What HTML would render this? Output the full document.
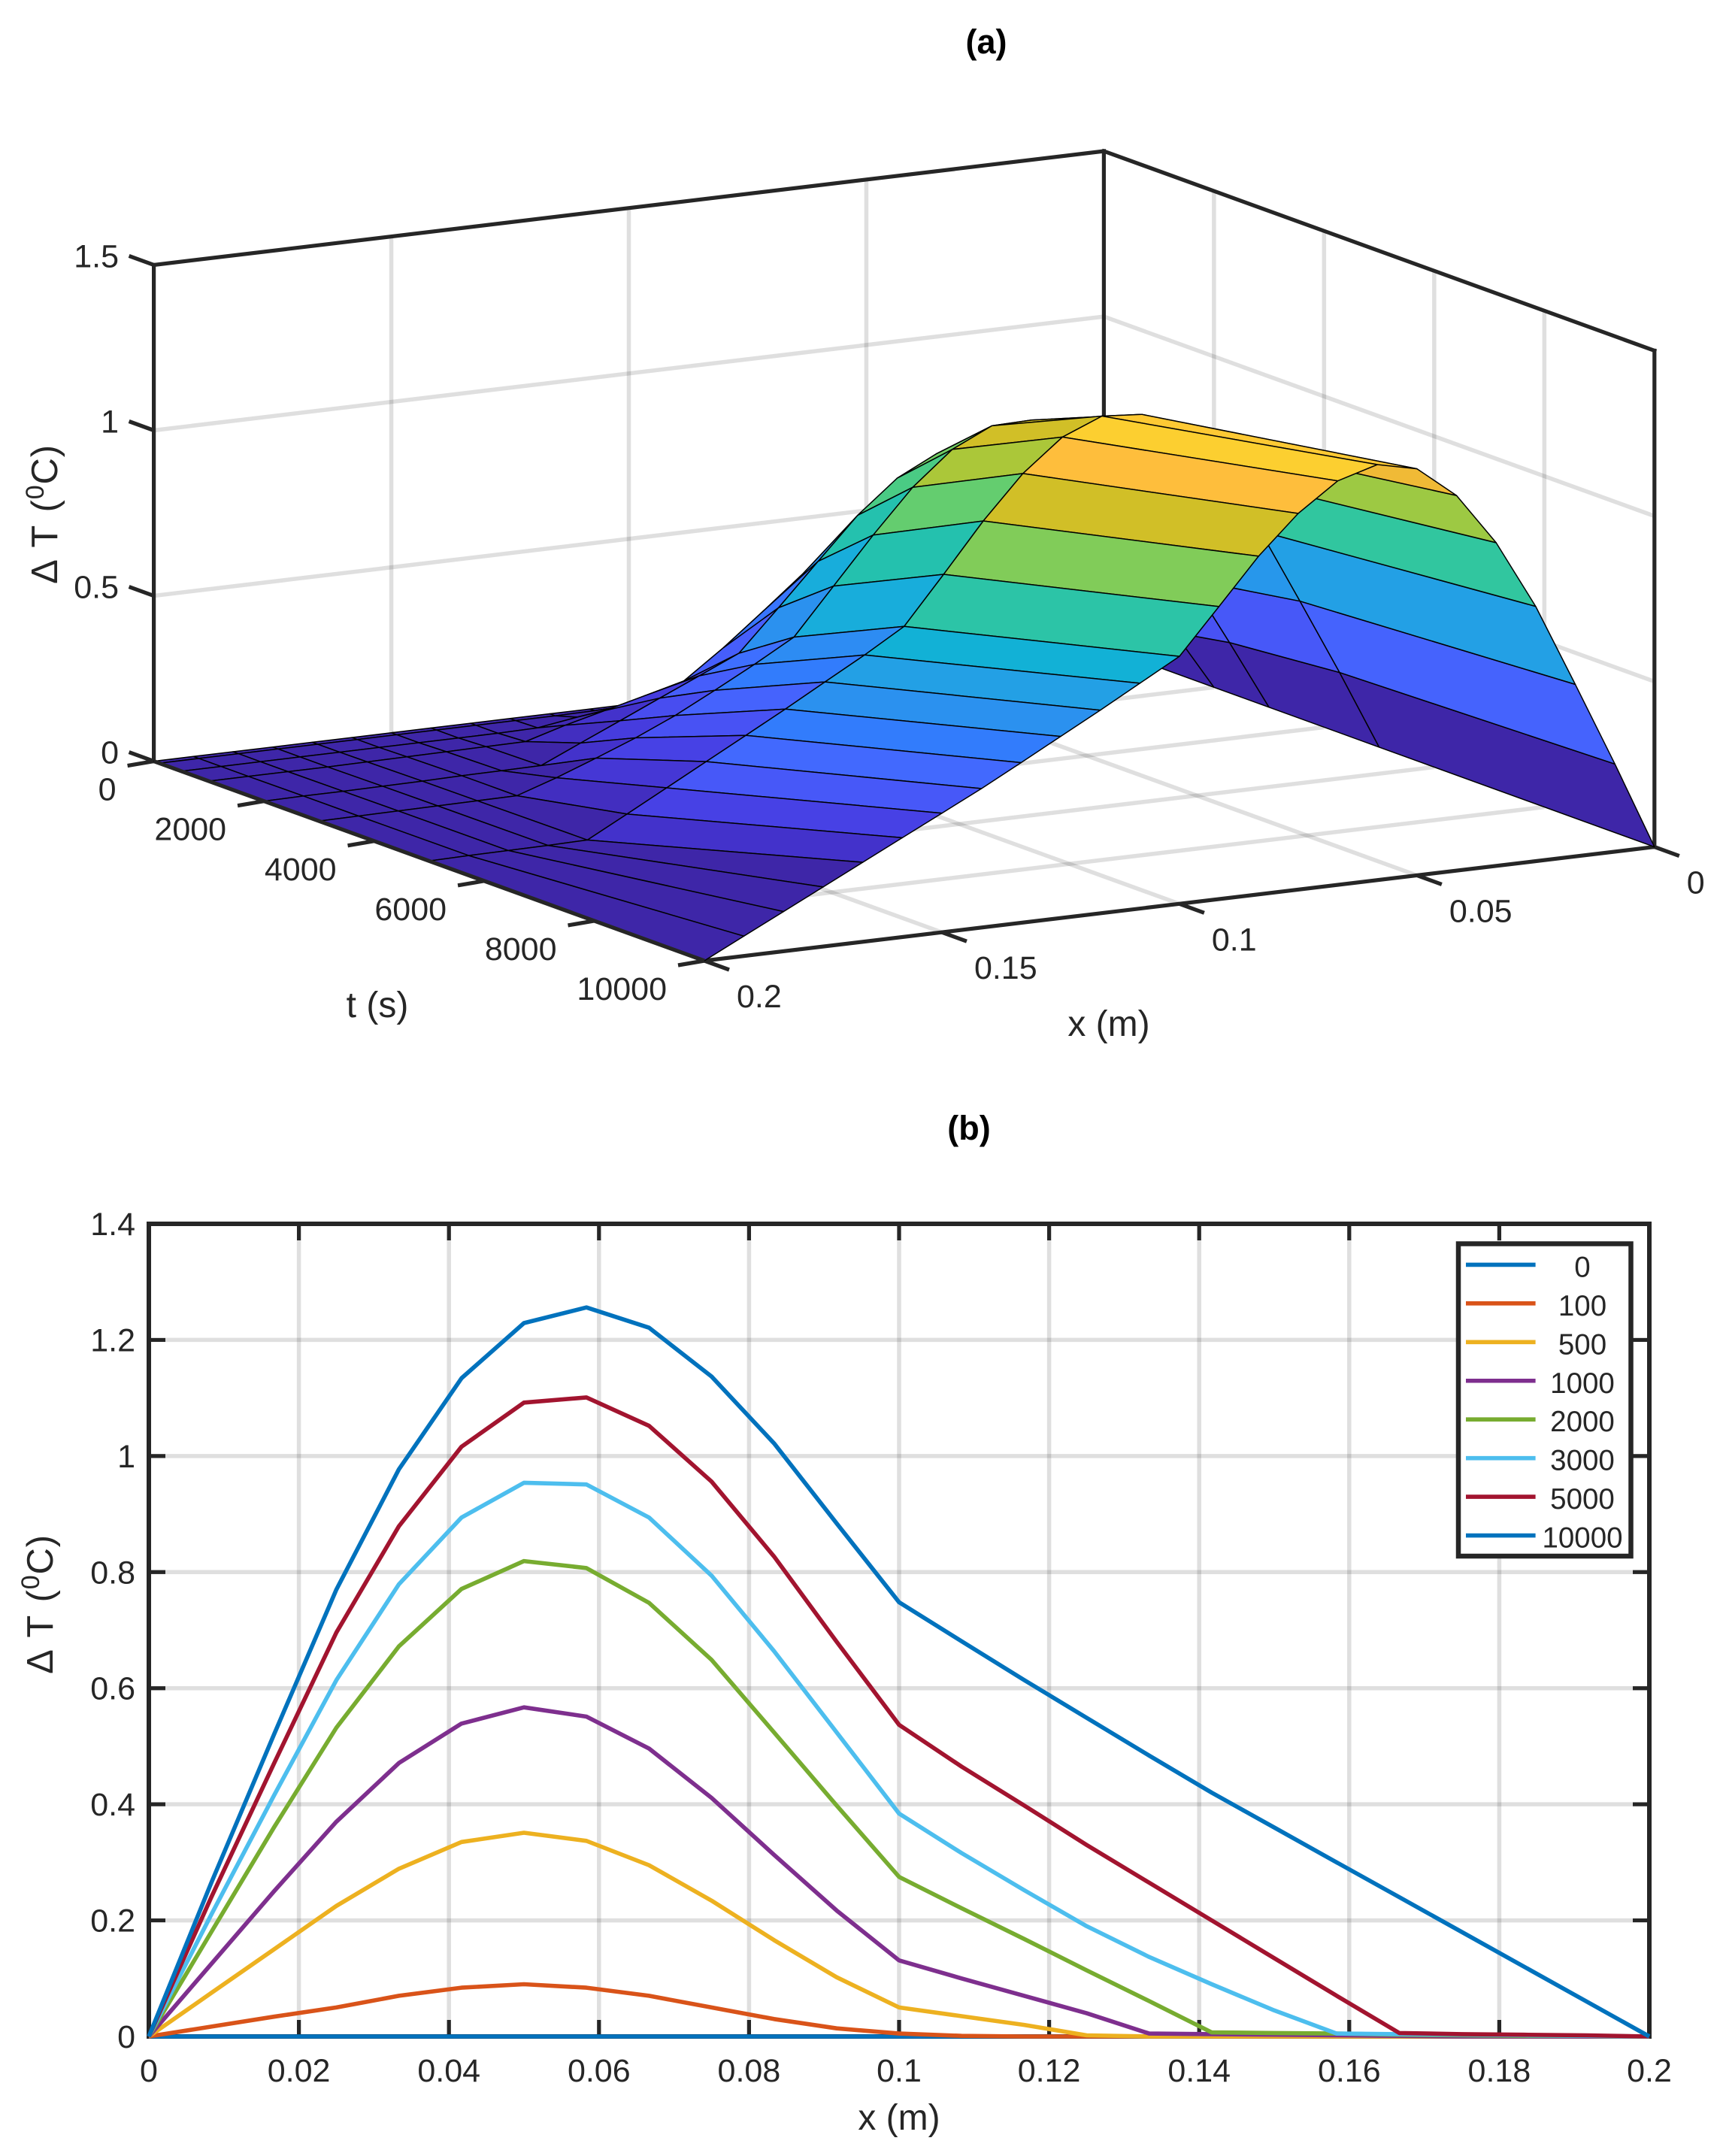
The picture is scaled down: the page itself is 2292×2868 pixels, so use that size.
<!DOCTYPE html>
<html lang="en">
<head>
<meta charset="utf-8">
<title>Temperature rise surface and profiles</title>
<style>
html,body{margin:0;padding:0;background:#fff;}
svg{display:block;}
text{font-family:"Liberation Sans",Arial,sans-serif;fill:#262626;}
</style>
</head>
<body>
<svg id="figure" xmlns="http://www.w3.org/2000/svg" width="2292" height="2868" viewBox="0 0 2292 2868">
  <rect x="0" y="0" width="2292" height="2868" fill="#ffffff"/>
  <text x="1312" y="71" font-size="45" font-weight="bold" text-anchor="middle" style="fill:#000">(a)</text>
  <text x="1289" y="1516" font-size="45" font-weight="bold" text-anchor="middle" style="fill:#000">(b)</text>
  <g id="panelA"></g>
  <g id="panelB"></g>
  <text x="1475" y="1378" font-size="48" text-anchor="middle">x (m)</text>
  <text x="502" y="1353" font-size="48" text-anchor="middle">t (s)</text>
  <text transform="translate(76 684) rotate(-90)" font-size="49" text-anchor="middle" word-spacing="3" letter-spacing="0.8">Δ T (<tspan font-size="34" dy="-18">0</tspan><tspan dy="18">C)</tspan></text>
  <text x="1196" y="2833" font-size="48" text-anchor="middle">x (m)</text>
  <text transform="translate(70 2134) rotate(-90)" font-size="49" text-anchor="middle" word-spacing="3" letter-spacing="0.8">Δ T (<tspan font-size="34" dy="-18">0</tspan><tspan dy="18">C)</tspan></text>
</svg>
<script>
// ---- Data ----
const xValues = [0,0.00833,0.01667,0.025,0.03333,0.04167,0.05,0.05833,0.06667,0.075,0.08333,0.09167,0.1,0.10833,0.11667,0.125,0.13333,0.14167,0.15,0.15833,0.16667,0.175,0.18333,0.19167,0.2];
const timeSteps = [0,100,500,1000,2000,3000,5000,10000];
const legendLabels = ['0','100','500','1000','2000','3000','5000','10000'];
const dT0 = [0,0,0,0,0,0,0,0,0,0,0,0,0,0,0,0,0,0,0,0,0,0,0,0,0];
const dT100 = [0,0.017,0.034,0.05,0.07,0.084,0.09,0.084,0.07,0.05,0.03,0.014,0.005,0.001,0,0,0,0,0,0,0,0,0,0,0];
const dT500 = [0,0.075,0.15,0.225,0.289,0.335,0.351,0.337,0.295,0.234,0.166,0.102,0.05,0.035,0.02,0.002,0,0,0,0,0,0,0,0,0];
const dT1000 = [0,0.125,0.25,0.37,0.471,0.539,0.567,0.551,0.496,0.411,0.313,0.217,0.131,0.1,0.07,0.04,0.005,0.004,0.003,0.002,0.001,0,0,0,0];
const dT2000 = [0,0.18,0.36,0.532,0.672,0.771,0.819,0.807,0.747,0.649,0.524,0.398,0.275,0.221,0.168,0.114,0.061,0.007,0.006,0.005,0.003,0.002,0.001,0.001,0];
const dT3000 = [0,0.21,0.415,0.614,0.779,0.894,0.954,0.951,0.894,0.794,0.664,0.524,0.384,0.316,0.252,0.19,0.137,0.09,0.045,0.005,0.004,0.003,0.002,0.001,0];
const dT5000 = [0,0.24,0.47,0.696,0.879,1.016,1.092,1.101,1.052,0.956,0.827,0.68,0.537,0.465,0.398,0.33,0.265,0.2,0.135,0.07,0.006,0.004,0.003,0.002,0];
const dT10000 = [0,0.265,0.52,0.77,0.977,1.134,1.229,1.256,1.221,1.137,1.022,0.884,0.748,0.681,0.614,0.549,0.484,0.42,0.36,0.3,0.24,0.18,0.12,0.06,0];
const surfaceXTicks = [0,0.05,0.1,0.15,0.2];
const surfaceXTickLabels = ['0','0.05','0.1','0.15','0.2'];
const surfaceTTicks = [0,2000,4000,6000,8000,10000];
const surfaceTTickLabels = ['0','2000','4000','6000','8000','10000'];
const surfaceZTicks = [0,0.5,1,1.5];
const surfaceZTickLabels = ['0','0.5','1','1.5'];
const lineXTicks = [0,0.02,0.04,0.06,0.08,0.1,0.12,0.14,0.16,0.18,0.2];
const lineXTickLabels = ['0','0.02','0.04','0.06','0.08','0.1','0.12','0.14','0.16','0.18','0.2'];
const lineYTicks = [0,0.2,0.4,0.6,0.8,1,1.2,1.4];
const lineYTickLabels = ['0','0.2','0.4','0.6','0.8','1','1.2','1.4'];

// ---- Styling ----
const lineColors = ['#0072bd','#d95319','#edb120','#7e2f8e','#77ac30','#4dbeee','#a2142f','#0072bd'];
const parulaMap = [[.2422,.1504,.6603],[.2504,.165,.7076],[.2578,.1818,.7511],[.2647,.1978,.7952],[.2706,.2147,.8364],[.2751,.2342,.871],[.2783,.2559,.8991],[.2803,.2782,.9221],[.2813,.3006,.9414],[.281,.3228,.9579],[.2795,.3447,.9717],[.276,.3667,.9829],[.2699,.3892,.9906],[.2602,.4123,.9952],[.244,.4358,.9988],[.2206,.4603,.9973],[.1963,.4847,.9892],[.1834,.5074,.9798],[.1786,.5289,.9682],[.1764,.5499,.952],[.1687,.5703,.9359],[.154,.5902,.9218],[.146,.6091,.9079],[.138,.6276,.8973],[.1248,.6459,.8883],[.1113,.6635,.8763],[.0952,.6798,.8598],[.0689,.6948,.8394],[.0297,.7082,.8163],[.0036,.7203,.7917],[.0067,.7312,.766],[.0433,.7411,.7394],[.0964,.75,.712],[.1408,.7584,.6842],[.1717,.767,.6554],[.1938,.7758,.6251],[.2161,.7843,.5923],[.247,.7918,.5567],[.2906,.7973,.5188],[.3406,.8008,.4789],[.3909,.8029,.4354],[.4456,.8024,.3909],[.5044,.7993,.348],[.5616,.7942,.3045],[.6174,.7876,.2612],[.672,.7793,.2227],[.7242,.7698,.191],[.7738,.7598,.1646],[.8203,.7498,.1535],[.8634,.7406,.1596],[.9035,.733,.1774],[.9393,.7288,.21],[.9728,.7298,.2394],[.9956,.7434,.2371],[.997,.7659,.2199],[.9952,.7893,.2028],[.9892,.8136,.1885],[.9786,.8386,.1766],[.9676,.8639,.1643],[.961,.889,.1537],[.9597,.9135,.1423],[.9628,.9373,.1265],[.9691,.9606,.1064],[.9769,.9839,.0805]];

const seriesByTime = [dT0,dT100,dT500,dT1000,dT2000,dT3000,dT5000,dT10000];
const NS = 'http://www.w3.org/2000/svg';
const AXIS = '#262626';
const GRID = 'rgba(38,38,38,0.15)';
const AXIS_W = 5.2;
const GRID_W = 5.5;
const SERIES_W = 5.6;

function make(parent, tag, attrs, text) {
  const el = document.createElementNS(NS, tag);
  for (const k in attrs) el.setAttribute(k, attrs[k]);
  if (text !== undefined) el.textContent = text;
  parent.appendChild(el);
  return el;
}
function lineAttrs(a, b, stroke, width) {
  return {x1:a[0], y1:a[1], x2:b[0], y2:b[1], stroke:stroke, 'stroke-width':width, 'stroke-linecap':'butt'};
}
function parula(value, maxValue) {
  const idx = Math.min(parulaMap.length - 1, Math.floor(value / maxValue * parulaMap.length));
  const c = parulaMap[idx];
  return 'rgb(' + Math.round(c[0]*255) + ',' + Math.round(c[1]*255) + ',' + Math.round(c[2]*255) + ')';
}

// ---- Panel A: 3D axis function (orthographic) ----
const xMaxA = 0.2, tMaxA = 10000;
function project(x, t, z) {
  const u = (xMaxA - x) / xMaxA;          // front corner to right corner
  const v = (tMaxA - t) / tMaxA;          // front corner to left corner
  return [937 + u * 1263.8 + v * (-732.4), 1278 + u * (-151.4) + v * (-265.4) - z * 440.1];
}
const panelA = document.getElementById('panelA');

// wall and floor grid
surfaceZTicks.forEach(function (z) {
  if (z === 0 || z === 1.5) return;
  const g1 = make(panelA, 'line', lineAttrs(project(0.2,0,z), project(0,0,z), GRID, GRID_W));
  
  
  const g2 = make(panelA, 'line', lineAttrs(project(0,0,z), project(0,10000,z), GRID, GRID_W));
  
  
});
surfaceXTicks.forEach(function (x) {
  if (x === 0 || x === 0.2) return;
  const g1 = make(panelA, 'line', lineAttrs(project(x,0,0), project(x,0,1.5), GRID, GRID_W));
  
  
  const g2 = make(panelA, 'line', lineAttrs(project(x,0,0), project(x,10000,0), GRID, GRID_W));
  
  
});
surfaceTTicks.forEach(function (t) {
  if (t === 0 || t === 10000) return;
  const g1 = make(panelA, 'line', lineAttrs(project(0,t,0), project(0,t,1.5), GRID, GRID_W));
  
  
  const g2 = make(panelA, 'line', lineAttrs(project(0,t,0), project(0.2,t,0), GRID, GRID_W));
  
  
});

// box edges behind the surface
[[[0.2,0,0],[0.2,0,1.5]], [[0.2,0,1.5],[0,0,1.5]], [[0,0,1.5],[0,0,0]], [[0,0,1.5],[0,10000,1.5]], [[0,10000,1.5],[0,10000,0]]].forEach(function (e) {
  const box = make(panelA, 'line', lineAttrs(project.apply(null, e[0]), project.apply(null, e[1]), AXIS, AXIS_W));
  box.setAttribute('stroke-linecap', 'square');
  
  
});

// axis rulers and ticks drawn under the surface mesh
const rulerX = make(panelA, 'line', lineAttrs(project(0.2,10000,0), project(0,10000,0), AXIS, AXIS_W));


surfaceXTicks.forEach(function (x, i) {
  const p = project(x, 10000, 0);
  const tk = make(panelA, 'line', lineAttrs(p, [p[0] + 33, p[1] + 12], AXIS, AXIS_W));
  
  
});
surfaceTTicks.forEach(function (t) {
  const p = project(0.2, t, 0);
  const tk = make(panelA, 'line', lineAttrs(p, [p[0] - 35, p[1] + 6], AXIS, AXIS_W));
  
  
});
surfaceZTicks.forEach(function (z) {
  const p = project(0.2, 0, z);
  const tk = make(panelA, 'line', lineAttrs(p, [p[0] - 33, p[1] - 12], AXIS, AXIS_W));
  
  
});

// surface mesh: far to near painter's order, flat colour from the lower-index corner
const zMaxA = Math.max.apply(null, seriesByTime.map(function (s) { return Math.max.apply(null, s); }));
const surfaceGroup = make(panelA, 'g', {});


for (let j = 0; j < timeSteps.length - 1; j++) {
  for (let i = 0; i < xValues.length - 1; i++) {
    const pts = [
      project(xValues[i], timeSteps[j], seriesByTime[j][i]),
      project(xValues[i+1], timeSteps[j], seriesByTime[j][i+1]),
      project(xValues[i+1], timeSteps[j+1], seriesByTime[j+1][i+1]),
      project(xValues[i], timeSteps[j+1], seriesByTime[j+1][i])
    ];
    const face = make(surfaceGroup, 'polygon', {
      points: pts.map(function (p) { return p[0].toFixed(1) + ',' + p[1].toFixed(1); }).join(' '),
      fill: parula(seriesByTime[j][i], zMaxA),
      stroke: '#000',
      'stroke-width': 1.5,
      'stroke-linejoin': 'round'
    });
    
    
  }
}

const rulerT = make(panelA, 'line', lineAttrs(project(0.2,0,0), project(0.2,10000,0), AXIS, AXIS_W));



// tick labels for panel A: anchored relative to the tick root
surfaceXTicks.forEach(function (x, i) {
  const p = project(x, 10000, 0);
  const lb = make(panelA, 'text', {x: p[0] + 43, y: p[1] + 62, 'font-size': 43, 'text-anchor': 'start'}, surfaceXTickLabels[i]);
  
  
});
surfaceTTicks.forEach(function (t, i) {
  const p = project(0.2, t, 0);
  const lb = make(panelA, 'text', {x: p[0] - 50, y: p[1] + 52, 'font-size': 43, 'text-anchor': 'end'}, surfaceTTickLabels[i]);
  
  
});
surfaceZTicks.forEach(function (z, i) {
  const p = project(0.2, 0, z);
  const lb = make(panelA, 'text', {x: 158, y: p[1] + 3, 'font-size': 43, 'text-anchor': 'end'}, surfaceZTickLabels[i]);
  
  
});

// ---- Panel B: 2D axis functions ----
const plotLeft = 198, plotRight = 2194, plotTop = 1628, plotBottom = 2709;
function sx(x) { return plotLeft + (x / 0.2) * (plotRight - plotLeft); }
function sy(v) { return plotBottom - (v / 1.4) * (plotBottom - plotTop); }
const panelB = document.getElementById('panelB');

lineXTicks.forEach(function (x) {
  if (x === 0 || x === 0.2) return;
  const g = make(panelB, 'line', lineAttrs([sx(x), plotTop], [sx(x), plotBottom], GRID, GRID_W));
  
  
});
lineYTicks.forEach(function (v) {
  if (v === 0 || v === 1.4) return;
  const g = make(panelB, 'line', lineAttrs([plotLeft, sy(v)], [plotRight, sy(v)], GRID, GRID_W));
  
  
});

const frame = make(panelB, 'rect', {x: plotLeft, y: plotTop, width: plotRight - plotLeft, height: plotBottom - plotTop, fill: 'none', stroke: AXIS, 'stroke-width': 6});



lineXTicks.forEach(function (x, i) {
  const t1 = make(panelB, 'line', lineAttrs([sx(x), plotBottom], [sx(x), plotBottom - 22], AXIS, AXIS_W));
  
  
  const t2 = make(panelB, 'line', lineAttrs([sx(x), plotTop], [sx(x), plotTop + 22], AXIS, AXIS_W));
  
  
  const lb = make(panelB, 'text', {x: sx(x), y: 2769, 'font-size': 43, 'text-anchor': 'middle'}, lineXTickLabels[i]);
  
  
});
lineYTicks.forEach(function (v, i) {
  const t1 = make(panelB, 'line', lineAttrs([plotLeft, sy(v)], [plotLeft + 22, sy(v)], AXIS, AXIS_W));
  
  
  const t2 = make(panelB, 'line', lineAttrs([plotRight, sy(v)], [plotRight - 22, sy(v)], AXIS, AXIS_W));
  
  
  const lb = make(panelB, 'text', {x: 180, y: sy(v) + 15, 'font-size': 43, 'text-anchor': 'end'}, lineYTickLabels[i]);
  
  
});

seriesByTime.forEach(function (series, s) {
  const pts = series.map(function (v, i) { return sx(xValues[i]).toFixed(1) + ',' + sy(v).toFixed(1); }).join(' ');
  const pl = make(panelB, 'polyline', {points: pts, fill: 'none', stroke: lineColors[s], 'stroke-width': SERIES_W, 'stroke-linejoin': 'round'});
  
  
});

// legend
const legendGroup = make(panelB, 'g', {});


const legendBox = make(legendGroup, 'rect', {x: 1940, y: 1654.5, width: 229.5, height: 415.5, fill: '#fff', stroke: AXIS, 'stroke-width': 6.5});


legendLabels.forEach(function (label, i) {
  const y = 1682.4 + i * 51.45;
  const key = make(legendGroup, 'line', lineAttrs([1950, y], [2042.6, y], lineColors[i], SERIES_W));
  
  
  const tx = make(legendGroup, 'text', {x: 2105, y: y + 16, 'font-size': 38.5, 'text-anchor': 'middle'}, label);
  
  
});
</script>
</body>
</html>
